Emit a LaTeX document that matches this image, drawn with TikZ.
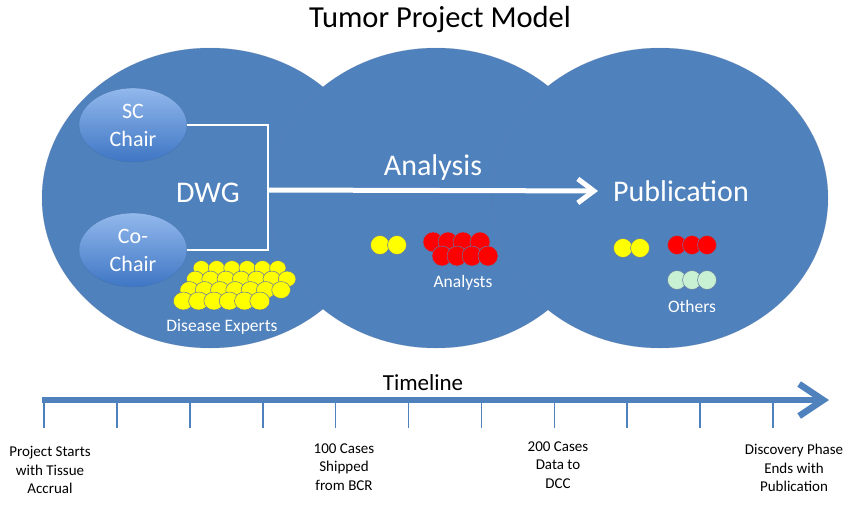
\documentclass[tikz,border=0pt]{standalone}
\usepackage{fontspec}
\setmainfont{Carlito}
\usetikzlibrary{arrows.meta,positioning,shapes.geometric}

\definecolor{blob}{RGB}{79,129,189}
\definecolor{blobline}{RGB}{96,128,170}
\definecolor{chairtop}{RGB}{146,184,236}
\definecolor{chairbot}{RGB}{62,118,196}
\definecolor{dotyellow}{RGB}{255,255,0}
\definecolor{dotred}{RGB}{255,0,0}
\definecolor{dotgreen}{RGB}{200,240,210}
\definecolor{dotshade}{RGB}{96,120,165}

\tikzset{
  lobe/.style={fill=blob, draw=blobline, draw opacity=.45, line width=.5pt},
  chair/.style={ellipse, minimum width=108pt, minimum height=74pt, inner sep=0pt,
    top color=chairtop, bottom color=chairbot, draw=blob!90!black, line width=.3pt,
    text=white, align=center, font=\fontsize{22}{28}\selectfont},
  bigtext/.style={text=white, inner sep=0pt, font=\fontsize{30}{36}\selectfont},
  smalltext/.style={text=white, inner sep=0pt, font=\fontsize{17.5}{21}\selectfont},
  bracket/.style={draw=white, line width=2.5pt},
  flow/.style={draw=white, line width=5pt, -{Straight Barb[length=16pt,width=24pt]}},
  ball/.style={draw=dotshade, line width=.5pt},
  timeline/.style={draw=blob, line width=6.5pt, -{Straight Barb[length=24pt,width=32pt]}},
  tickmark/.style={draw=blob, line width=1.6pt},
  tlabel/.style={align=center, inner sep=0pt, font=\fontsize{15}{18.5}\selectfont}
}

\begin{document}
\begin{tikzpicture}[x=1pt,y=-1pt]
\useasboundingbox (0,0) rectangle (855,509);

% Title
\node[inner sep=0pt, font=\fontsize{30.5}{36}\selectfont] (title) at (440,20) {Tumor Project Model};

% The three lobes, left to right
\draw[lobe] (210,198) ellipse [x radius=168, y radius=150];
\draw[lobe] (436,198) ellipse [x radius=168, y radius=150];
\draw[lobe] (660,198) ellipse [x radius=168, y radius=150];

% Chairs and DWG
\node[chair] (sc) at (133,125) {SC\\Chair};
\node[chair] (co) at (133,250) {Co-\\Chair};
\node[bigtext] (dwg) at (208,193) {DWG};
\coordinate (jn) at (268,190);

% bracket and arrow
\draw[bracket] (sc.east) -| (jn) |- (co.east);
\node[bigtext] (pub) at (681,191) {Publication};
\draw[flow, shorten >=15pt] (jn) -- (pub.west);
\node[bigtext] (ana) at (433,167) {Analysis};

% Disease experts, back row first
\foreach \r/\n in {3/6,2/7,1/7,0/6} {
  \foreach \c in {1,...,\n} {
    \pgfmathsetmacro{\px}{168 + 15.3*\c + 6*\r}
    \pgfmathsetmacro{\py}{301 - 11*\r}
    \pgfmathsetmacro{\rad}{10 - .6*\r}
    \draw[ball, fill=dotyellow] (\px,\py) ellipse [x radius=\rad, y radius=.9*\rad];
  }
}
\node[smalltext] (experts) at (222,327) {Disease Experts};

% Analysts
\foreach \x in {380,397}
  \draw[ball, fill=dotyellow] (\x,245) circle (9.5);
\foreach \x in {433,448,463,480}
  \draw[ball, fill=dotred] (\x,242) circle (10);
\foreach \x in {442,457,472,488}
  \draw[ball, fill=dotred] (\x,256) circle (10);
\node[smalltext] (analysts) at (463,283) {Analysts};

% Others
\foreach \x in {623,640}
  \draw[ball, fill=dotyellow] (\x,248) circle (9.5);
\foreach \x in {677,692,707} {
  \draw[ball, fill=dotred] (\x,245) circle (9.5);
  \draw[ball, fill=dotgreen] (\x,280) circle (9.5);
}
\node[smalltext] (others) at (692,306) {Others};

% Timeline
\node[inner sep=0pt, font=\fontsize{23}{28}\selectfont] (tl) at (423,383) {Timeline};
\coordinate (tstart) at (42,400);
\coordinate (tend) at (829,400);
\draw[timeline] (tstart) -- (tend);
\foreach \i in {0,...,10}
  \draw[tickmark] (44+72.9*\i,400) -- (44+72.9*\i,428);

\node[tlabel] (start) at (50,470) {Project Starts\\with Tissue\\Accrual};
\node[tlabel] (ship) at (344,467) {100 Cases\\Shipped\\from BCR};
\node[tlabel] (dcc) at (558,465) {200 Cases\\Data to\\DCC};
\node[tlabel] (ends) at (794,468) {Discovery Phase\\Ends with\\Publication};

\end{tikzpicture}
\end{document}
